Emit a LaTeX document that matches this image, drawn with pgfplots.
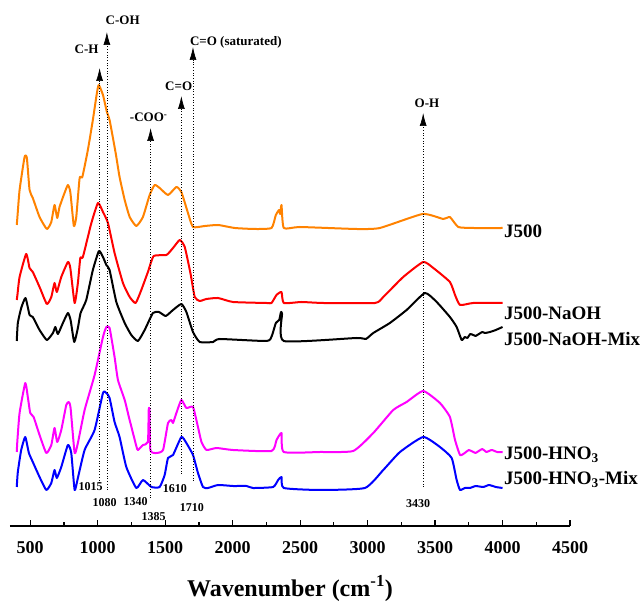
\documentclass[border=0pt]{standalone}
\usepackage{pgfplots}
\pgfplotsset{compat=1.18}
\usepackage{fontspec}
\setmainfont{Liberation Serif}
\usetikzlibrary{arrows.meta}
\definecolor{jorange}{RGB}{255,130,0}
\definecolor{jmag}{RGB}{255,0,255}
\begin{document}
\begin{tikzpicture}
\begin{axis}[
 scale only axis, width=560pt, height=526pt,
 xmin=350, xmax=4500, ymin=0, ymax=526,
 axis x line=bottom, axis y line=none,
 axis line style={-, line width=1.2pt},
 xtick={500,1000,...,4500}, minor x tick num=1,
 tick align=inside, major tick length=6pt, minor tick length=4pt,
 tick style={line width=1.2pt, black},
 xticklabel style={font=\bfseries\fontsize{18}{18}\selectfont},
 xticklabel shift=12pt,
 /pgf/number format/assume math mode=true,
 /pgf/number format/1000 sep={},
 scaled x ticks=false,
 xlabel={\bfseries Wavenumber (cm\textsuperscript{-1})},
 xlabel style={font=\fontsize{24}{24}\selectfont, at={(axis description cs:0.5,0)}, anchor=base, yshift=-70pt},
 clip=false,
 every axis plot/.append style={line width=2pt, line join=round, smooth, tension=0.3},
]
% J500
\addplot[jorange] coordinates {(400,301)(405,309)(421,336)(458,369)(475,368)(495,336)(519,328)(569,309)(623,297)(656,304)(680,321)(700,308)(717,319)(754,333)(779,341)(797,334)(823,300)(841,309)(866,348)(886,349)(927,376)(964,406)(994,433)(1008,441)(1039,431)(1068,414)(1088,406)(1133,373)(1162,349)(1200,326)(1237,309)(1286,300)(1335,309)(1385,331)(1422,341)(1459,338)(1521,331)(1583,339)(1620,334)(1669,313)(1706,299)(1793,300)(1892,301)(2016,298)(2164,297)(2288,298)(2320,311)(2344,316)(2352,312)(2362,321)(2379,298)(2498,299)(2918,297)(3091,298)(3408,312)(3561,307)(3610,309)(3672,299)(3783,298)(4000,298)};
% J500-NaOH
\addplot[red] coordinates {(400,226)(405,231)(421,249)(470,272)(495,258)(519,254)(569,239)(623,222)(656,229)(680,243)(697,234)(730,249)(779,264)(797,258)(829,223)(853,243)(871,268)(890,269)(953,303)(1002,323)(1039,314)(1076,303)(1125,273)(1187,243)(1237,229)(1281,223)(1323,236)(1372,254)(1415,270)(1509,271)(1558,278)(1608,286)(1645,279)(1687,253)(1719,229)(1756,225)(1806,227)(1892,228)(2003,224)(2251,223)(2288,223)(2325,231)(2362,234)(2379,223)(2510,224)(2671,223)(3054,223)(3116,229)(3264,249)(3412,264)(3487,258)(3610,244)(3648,231)(3685,221)(3783,223)(4000,223)};
% J500-NaOH-Mix
\addplot[black] coordinates {(400,185)(408,203)(433,218)(465,228)(495,211)(519,209)(569,196)(623,186)(668,193)(686,199)(705,192)(742,203)(779,213)(799,206)(826,184)(853,198)(873,213)(915,226)(964,256)(1009,275)(1039,269)(1064,261)(1088,256)(1138,224)(1200,203)(1249,191)(1298,185)(1348,196)(1409,213)(1454,214)(1504,210)(1558,216)(1620,222)(1657,214)(1706,194)(1756,184)(1855,184)(1904,187)(2251,185)(2290,190)(2320,203)(2345,206)(2358,214)(2366,212)(2379,185)(2918,188)(2987,187)(3042,193)(3165,203)(3289,216)(3425,233)(3512,224)(3610,209)(3660,199)(3697,186)(3720,189)(3740,188)(3760,192)(3783,191)(3800,190)(3850,194)(3870,193)(3907,194)(3950,196)(4000,199)};
% J500-HNO3
\addplot[jmag] coordinates {(400,74)(405,86)(421,113)(463,143)(482,129)(500,113)(525,109)(569,91)(619,73)(656,81)(680,98)(700,84)(730,96)(767,121)(786,124)(799,118)(829,73)(853,83)(903,116)(977,151)(1039,189)(1064,199)(1088,198)(1125,169)(1150,146)(1200,126)(1231,109)(1286,80)(1298,76)(1335,81)(1372,84)(1378,116)(1384,116)(1390,76)(1435,73)(1484,76)(1521,103)(1546,106)(1558,103)(1583,113)(1620,126)(1657,118)(1706,119)(1743,99)(1769,84)(1806,76)(1880,78)(2003,76)(2288,75)(2325,86)(2362,93)(2379,74)(2646,74)(2893,75)(3042,93)(3190,116)(3289,124)(3412,135)(3536,123)(3610,109)(3648,86)(3685,71)(3720,73)(3750,76)(3783,74)(3800,73)(3850,77)(3880,74)(3920,76)(3960,74)(4000,74)};
% J500-HNO3-Mix
\addplot[blue] coordinates {(400,39)(408,54)(433,76)(463,89)(490,73)(519,64)(569,49)(619,36)(656,43)(680,56)(697,48)(730,59)(779,81)(804,73)(829,36)(853,48)(903,76)(977,96)(1039,133)(1064,133)(1088,128)(1125,104)(1162,89)(1212,59)(1286,38)(1335,46)(1398,39)(1459,39)(1496,51)(1521,68)(1558,71)(1620,89)(1657,83)(1706,71)(1743,53)(1780,39)(1817,38)(1892,41)(2003,40)(2102,40)(2151,38)(2300,39)(2337,46)(2362,49)(2379,38)(2646,36)(2980,38)(3116,56)(3240,74)(3412,89)(3536,79)(3623,68)(3660,46)(3685,36)(3720,38)(3759,38)(3800,40)(3857,39)(3900,41)(3950,39)(4000,38)};

% dotted marker lines
\begin{scope}[line width=0.7pt, dotted, -{Latex[length=13pt,width=7pt]}]
\draw (axis cs:1014,43) -- (axis cs:1014,458);
\draw (axis cs:1068,36) -- (axis cs:1068,494);
\draw (axis cs:1392,28) -- (axis cs:1392,398);
\draw (axis cs:1620,52) -- (axis cs:1620,430);
\draw (axis cs:1706,45) -- (axis cs:1706,479);
\draw (axis cs:3412,39) -- (axis cs:3412,413);
\end{scope}

% group labels
\begin{scope}[every node/.style={font=\bfseries\fontsize{13}{13}\selectfont, inner sep=0pt}]
\node[anchor=base] at (axis cs:918,472.7) {C-H};
\node[anchor=base] at (axis cs:1185,501) {C-OH};
\node[anchor=base] at (axis cs:1378,404.3) {-COO\textsuperscript{-}};
\node[anchor=base] at (axis cs:1600,435.3) {C=O};
\node[anchor=base west] at (axis cs:1683,480.3) {C=O (saturated)};
\node[anchor=base] at (axis cs:3440,418.7) {O-H};
\end{scope}

% wavenumber labels
\begin{scope}[every node/.style={font=\bfseries\fontsize{12}{12}\selectfont, inner sep=0pt}]
\node at (axis cs:947,39) {1015};
\node at (axis cs:1051,23) {1080};
\node at (axis cs:1281,24) {1340};
\node at (axis cs:1415,9) {1385};
\node at (axis cs:1571,37) {1610};
\node at (axis cs:1698,18) {1710};
\node at (axis cs:3374,22) {3430};
\end{scope}

% series labels
\begin{scope}[every node/.style={font=\bfseries\fontsize{19}{19}\selectfont, inner sep=0pt, anchor=base west}]
\node at (axis cs:4010,288) {J500};
\node at (axis cs:4010,206) {J500-NaOH};
\node at (axis cs:4010,180) {J500-NaOH-Mix};
\node at (axis cs:4010,66) {J500-HNO\textsubscript{3}};
\node at (axis cs:4010,41) {J500-HNO\textsubscript{3}-Mix};
\end{scope}
\end{axis}
\path (-10pt,-74pt) rectangle (634pt,526pt);
\end{tikzpicture}
\end{document}
